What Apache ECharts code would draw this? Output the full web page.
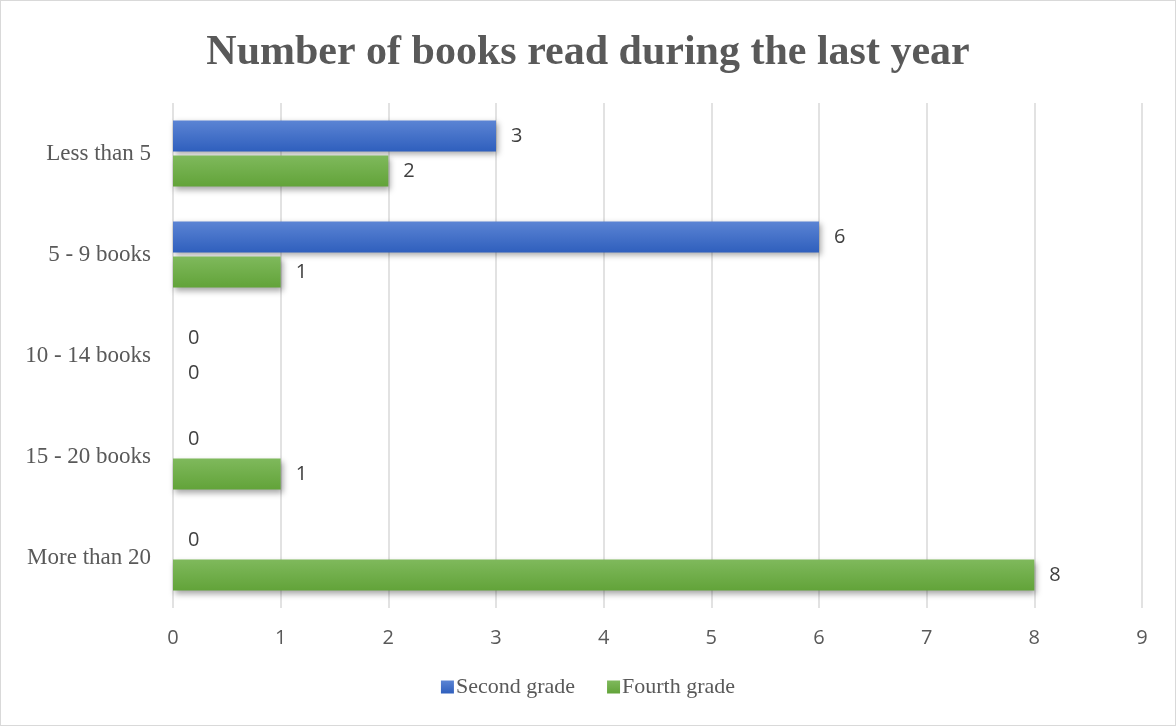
<!DOCTYPE html>
<html>
<head>
<meta charset="utf-8">
<script src="https://cdn.jsdelivr.net/npm/echarts@6/dist/echarts.min.js"></script>
<style>
  html, body { margin: 0; padding: 0; background: #fff; }
  #chart { width: 1174px; height: 724px; border: 1px solid #d9d9d9; }
</style>
</head>
<body>
<div id="chart"></div>
<script>
const categories = ['Less than 5', '5 - 9 books', '10 - 14 books', '15 - 20 books', 'More than 20']
const secondGrade = [3, 6, 0, 0, 0]
const fourthGrade = [2, 1, 0, 1, 8]
const seriesNames = ['Second grade', 'Fourth grade']

const chart = echarts.init(document.getElementById('chart'))

function grad (top, bottom) {
  return new echarts.graphic.LinearGradient(0, 0, 0, 1, [
    { offset: 0, color: top },
    { offset: 1, color: bottom }
  ])
}

const labelStyle = {
  show: true,
  position: 'right',
  distance: 15,
  color: '#404040',
  fontFamily: 'Open Sans',
  fontSize: 20
}

chart.setOption({
  animation: false,
  title: {
    text: 'Number of books read during the last year',
    left: 'center',
    top: 26,
    textStyle: {
      fontFamily: 'Liberation Serif',
      fontWeight: 'bold',
      fontSize: 42,
      color: '#595959'
    }
  },
  legend: {
    bottom: 22,
    left: 'center',
    itemWidth: 13,
    itemHeight: 13,
    itemGap: 32,
    icon: 'rect',
    textStyle: {
      fontFamily: 'Liberation Serif',
      fontSize: 22,
      color: '#595959',
      padding: [0, 0, 0, -3]
    },
    data: seriesNames
  },
  grid: {
    left: 172,
    right: 33,
    top: 102,
    bottom: 117
  },
  xAxis: {
    type: 'value',
    min: 0,
    max: 9,
    interval: 1,
    axisLine: { show: false },
    axisTick: { show: false },
    axisLabel: {
      margin: 20,
      fontFamily: 'Open Sans',
      fontSize: 20,
      color: '#595959'
    },
    splitLine: { lineStyle: { color: '#d9d9d9', width: 1.5 } }
  },
  yAxis: {
    type: 'category',
    inverse: true,
    data: categories,
    axisLine: { show: false },
    axisTick: { show: false },
    axisLabel: {
      margin: 22,
      fontFamily: 'Liberation Serif',
      fontSize: 23,
      color: '#595959'
    }
  },
  series: [
    {
      name: seriesNames[0],
      type: 'bar',
      data: secondGrade,
      barWidth: 31,
      barGap: '13%',
      itemStyle: {
        color: grad('#5b84d4', '#2f5fbd'),
        shadowColor: 'rgba(0,0,0,0.35)',
        shadowBlur: 6,
        shadowOffsetX: 2,
        shadowOffsetY: 3
      },
      label: labelStyle
    },
    {
      name: seriesNames[1],
      type: 'bar',
      data: fourthGrade,
      barWidth: 31,
      barGap: '13%',
      itemStyle: {
        color: grad('#7fb95c', '#62a339'),
        shadowColor: 'rgba(0,0,0,0.35)',
        shadowBlur: 6,
        shadowOffsetX: 2,
        shadowOffsetY: 3
      },
      label: labelStyle
    }
  ]
})
</script>
</body>
</html>
